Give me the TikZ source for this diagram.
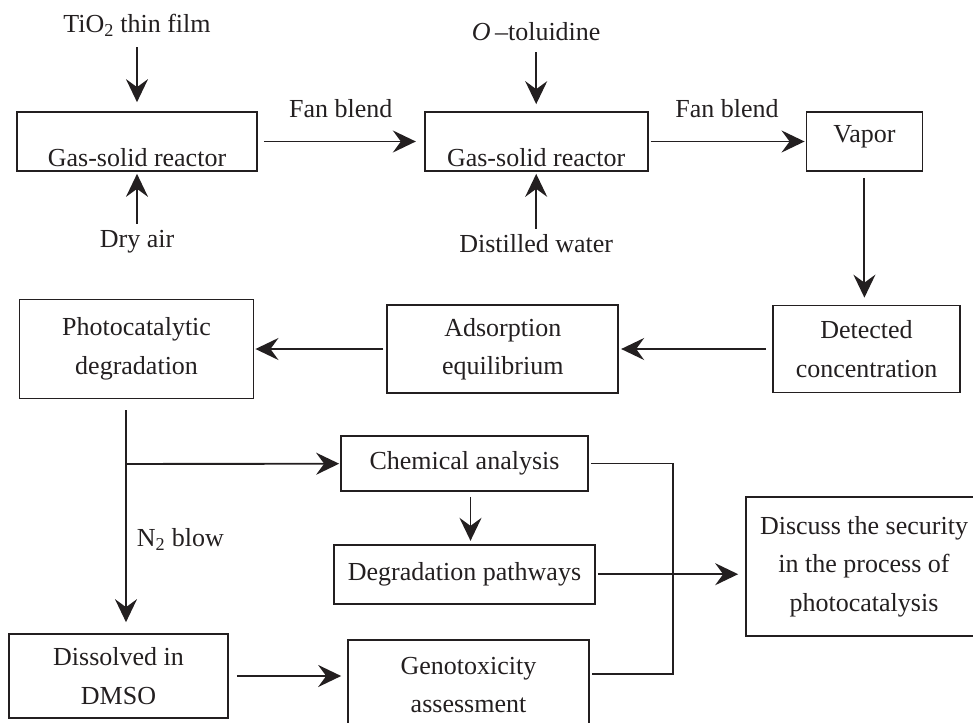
\documentclass[tikz,border=0pt]{standalone}
\usepackage{fontspec}
\setmainfont{Liberation Serif}
\usetikzlibrary{arrows.meta,positioning}
\definecolor{ink}{RGB}{35,31,32}

\begin{document}
\begin{tikzpicture}[
  x=1pt, y=1pt,
  font=\fontsize{26}{38.5}\selectfont,
  every node/.style={text=ink},
  box/.style={rectangle, draw=ink, line width=1.7pt, inner sep=0pt, align=center},
  lowtxt/.style={text height=51pt, text depth=0pt},
  lbl/.style={inner xsep=0pt, inner ysep=6pt, text height=17pt, text depth=5pt},
  arr/.style={draw=ink, line width=1.9pt, -{Stealth[length=23pt,width=22pt,inset=8pt]}},
  wire/.style={draw=ink, line width=1.9pt}
]
\useasboundingbox (0,0) rectangle (973,-722);

% Top row
\node[box, lowtxt, minimum width=240pt, minimum height=59pt] (reactA) at (137,-141.5) {Gas-solid reactor};
\node[box, lowtxt, minimum width=223pt, minimum height=59pt, right=166pt of reactA] (reactB) {Gas-solid reactor};
\node[box, text height=17pt, text depth=14pt, minimum width=116pt, minimum height=59pt, right=157pt of reactB] (vapor) {Vapor};

\node[lbl, above=67pt of reactA] (tio2) {TiO\textsubscript{2} thin film};
\node[lbl, below=52pt of reactA] (dryair) {Dry air};
\node[lbl, above=59pt of reactB] (otol) {\textit{O}\,\textendash{}toluidine};
\node[lbl, below=57pt of reactB] (water) {Distilled water};

\draw[arr, shorten <=3pt, shorten >=9pt] (tio2) -- (reactA);
\draw[arr, shorten >=2pt] (dryair) -- (reactA);
\draw[arr, shorten >=7pt] (otol) -- (reactB);
\draw[arr, shorten >=2pt] (water) -- (reactB);
\draw[arr, shorten <=6pt, shorten >=8pt] (reactA) -- node[lbl, above=12pt] {Fan blend} (reactB);
\draw[arr, shorten <=2pt, shorten >=1pt] (reactB) -- node[lbl, above=12pt] {Fan blend} (vapor);

% Second row
\node[box, minimum width=187pt, minimum height=87pt] (detect) at (866.5,-349) {Detected\\concentration};
\node[box, minimum width=231pt, minimum height=88pt, left=153pt of detect] (adsorb) {Adsorption\\equilibrium};
\node[box, minimum width=234pt, minimum height=99pt, left=132pt of adsorb] (photo) {Photocatalytic\\degradation};

\draw[arr, shorten <=6pt, shorten >=7pt] (vapor.south) -- (vapor.south |- detect.north);
\draw[arr, shorten <=6pt, shorten >=2pt] (detect) -- (adsorb);
\draw[arr, shorten <=3pt, shorten >=1pt] (adsorb) -- (photo);

% Analysis
\coordinate (split) at (126,-464);
\node[box, minimum width=247pt, minimum height=55pt] (chem) at (464.5,-463.5) {Chemical analysis};
\node[box, minimum width=261pt, minimum height=59pt, below=52pt of chem] (pathway) {Degradation pathways};
\node[box, minimum width=219pt, minimum height=84pt] (dmso) at (118.5,-676) {Dissolved in\\DMSO};
\node[box, minimum width=241pt, minimum height=90pt] (genot) at (468.5,-685) {Genotoxicity\\assessment};
\node[box, minimum width=236pt, minimum height=139pt] (discuss) at (864,-566.5) {Discuss the security\\in the process of\\photocatalysis};

\draw[wire, shorten <=11pt] (split |- photo.south) -- (split);
\draw[arr, shorten >=1pt] (split) -- (chem);
\draw[arr, shorten >=11pt] (split) -- node[lbl, right=10pt, pos=0.453] {N\textsubscript{2} blow} (split |- dmso.north);
\draw[arr, shorten <=5pt, shorten >=3pt] ([xshift=6pt]chem.south) -- ([xshift=6pt]chem.south |- pathway.north);
\draw[arr, shorten <=8pt, shorten >=6pt] (dmso.east) -- (dmso.east -| genot.west);

% Collect
\coordinate (busT) at (673,-463.5);
\coordinate (busB) at (673,-674);
\draw[wire] ([xshift=2pt]chem.east) -- (busT) -- (busB) -- ([xshift=2pt]genot.east |- busB);
\draw[arr, shorten <=2pt, shorten >=7pt] (pathway.east) -- (pathway.east -| discuss.west);

\end{tikzpicture}
\end{document}
